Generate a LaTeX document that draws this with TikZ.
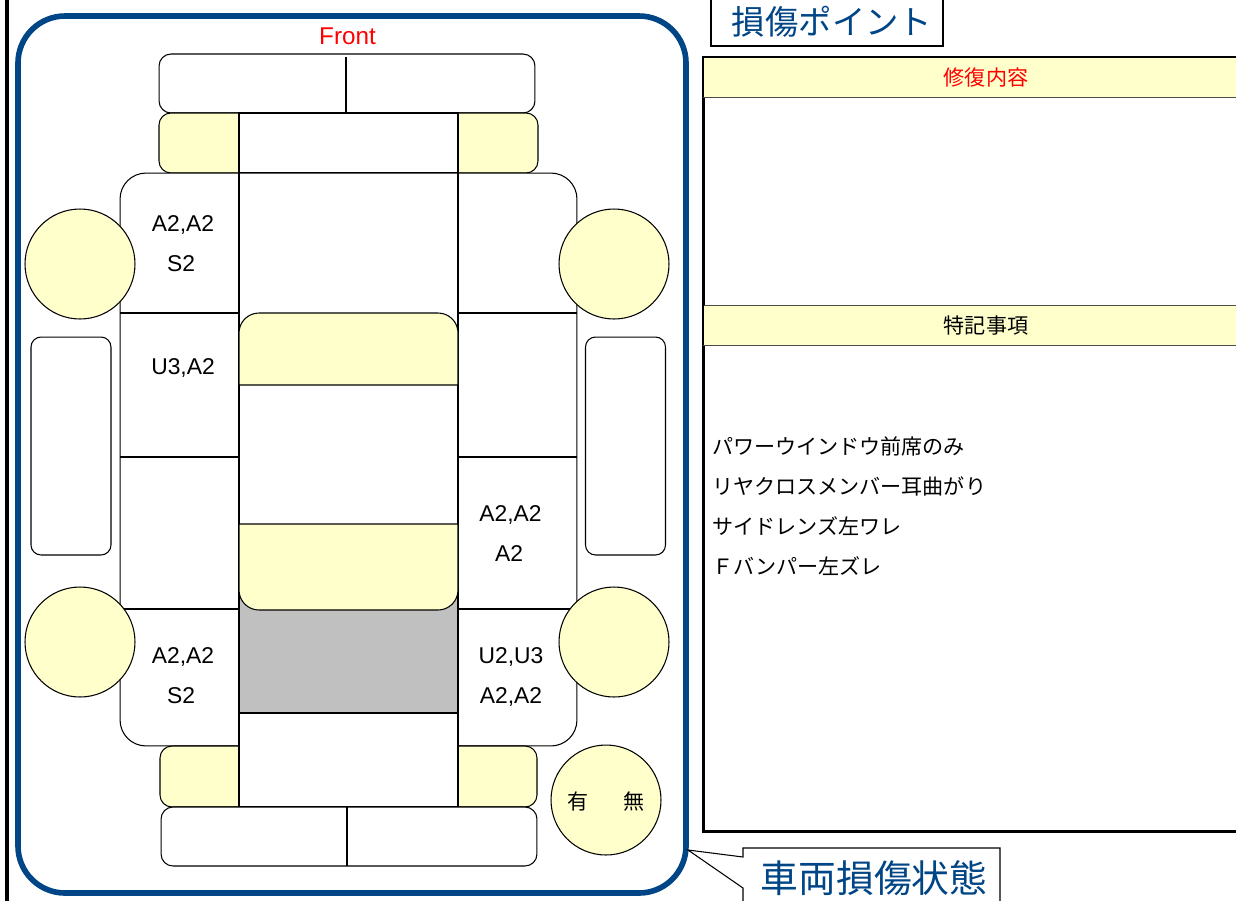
\documentclass[tikz,border=0pt]{standalone}
\usepackage{fontspec}
\setmainfont{Liberation Sans}
\newfontfamily\jpfont{Noto Sans CJK JP}
\definecolor{panelyellow}{HTML}{FFFFCC}
\definecolor{framedblue}{HTML}{004586}
\definecolor{damagegray}{HTML}{C0C0C0}
\begin{document}
\begin{tikzpicture}[
        x=0.02cm,y=-0.02cm,
        line width=0.6pt,
        part/.style={draw,fill=white,inner sep=0pt,outer sep=0pt},
        bumper/.style={part,rounded corners=2.4mm,minimum width=75.2mm,minimum height=11.8mm},
        sidepanel/.style={part,rounded corners=2mm,minimum width=16mm,minimum height=43.6mm},
        wheel/.style={part,circle,fill=panelyellow,minimum size=22mm},
        cornerpart/.style={draw,fill=panelyellow,rounded corners=2.4mm},
        windowpart/.style={draw,fill=panelyellow},
        code/.style={font=\fontsize{13}{15}\selectfont,inner sep=0pt},
        header/.style={draw=black!70,fill=panelyellow,inner sep=0pt,minimum width=113.2mm,minimum height=8mm,font=\jpfont\fontsize{12}{14}\selectfont},
        remark/.style={anchor=west,inner sep=0pt,font=\jpfont\fontsize{12}{14}\selectfont},
        callout/.style={text=framedblue,inner sep=0pt}
    ]

    \useasboundingbox (0,0) rectangle (1236,900);
    \clip (0,0) rectangle (1236,900);

    \draw[line width=1.9pt] (7,-5) -- (7,905);
    \draw[framedblue,line width=3.2pt,rounded corners=9.4mm] (18,16) rectangle (686,893);
    \node[code,text=red,font=\fontsize{13.8}{15}\selectfont] (front) at (347.5,36.5) {Front};

    % front end
    \node[bumper] (fbumper) at (347,83.5) {};
    \draw (346,57) -- (346,113);
    \draw[cornerpart] (239,113) -- (159,113) -- (159,173) -- (239,173);
    \draw[cornerpart] (458,113) -- (538,113) -- (538,173) -- (458,173);
    \node[part,minimum width=43.8mm,minimum height=12mm] (hood) at (348.5,143) {};

    % body
    \node[part,rounded corners=5.2mm,minimum width=91.4mm,minimum height=114.6mm] (body) at (348.5,459.5) {};
    \draw (239,173) -- (239,746);
    \draw (458,173) -- (458,746);
    \draw (120,313) -- (239,313);
    \draw (120,457) -- (239,457);
    \draw (120,609) -- (239,609);
    \draw (458,313) -- (577,313);
    \draw (458,457) -- (577,457);
    \draw (458,609) -- (577,609);

    % cabin
    \node[part,fill=damagegray,minimum width=43.8mm,minimum height=24.6mm] (roofdamage) at (348.5,651.5) {};
    \draw[windowpart] (239,385) [rounded corners=4mm] -- (239,313) -- (458,313) [sharp corners] -- (458,385) -- cycle;
    \draw[windowpart] (239,524) [rounded corners=4mm] -- (239,610) -- (458,610) [sharp corners] -- (458,524) -- cycle;

    % rear end
    \draw[cornerpart] (239,746) -- (160,746) -- (160,807) -- (239,807);
    \draw[cornerpart] (458,746) -- (537,746) -- (537,807) -- (458,807);
    \node[part,minimum width=43.8mm,minimum height=18.8mm] (trunk) at (348.5,760) {};
    \node[bumper] (rbumper) at (349,836.5) {};
    \draw (347,807) -- (347,866);

    \node[wheel] (wheelfl) at (80,264) {};
    \node[wheel] (wheelfr) at (614,264) {};
    \node[wheel] (wheelrl) at (80,642) {};
    \node[wheel] (wheelrr) at (614,642) {};

    \node[sidepanel] (sideleft) at (71,446) {};
    \node[sidepanel] (sideright) at (625.5,446) {};

    \node[code] (fl1) at (183,224.5) {A2,A2};
    \node[code] (fl2) at (181,264) {S2};
    \node[code] (ml1) at (183,367.5) {U3,A2};
    \node[code] (mr1) at (510.5,514.5) {A2,A2};
    \node[code] (mr2) at (509,554) {A2};
    \node[code] (rl1) at (183,656.5) {A2,A2};
    \node[code] (rl2) at (181,696) {S2};
    \node[code] (rr1) at (511,656.5) {U2,U3};
    \node[code] (rr2) at (511,696.5) {A2,A2};

    \node[wheel] (repairmark) at (606,800) {};
    \node[remark,anchor=center] (markyes) at (578,801) {有};
    \node[remark,anchor=center] (markno) at (634,801) {無};

    % right side
    \draw[fill=white] (711,-5) rectangle (943,46);
    \node[callout,font=\jpfont\fontsize{19}{22}\selectfont] (pointtitle) at (832,22) {損傷ポイント};

    \node[draw,line width=1.65pt,fill=white,inner sep=0pt,minimum width=113.2mm,minimum height=155mm] (panel) at (986,444.5) {};
    \node[header,text=red] (repair) at (986,77.5) {修復内容};
    \node[header] (notes) at (986,325.5) {特記事項};
    \draw[line width=1.65pt] (703,57) -- (1270,57);
    \draw[line width=1.65pt] (703,57) -- (703,97);
    \draw[line width=1.65pt] (703,305) -- (703,345);

    \node[remark] (note1) at (711.5,446) {パワーウインドウ前席のみ};
    \node[remark] (note2) at (711.5,486) {リヤクロスメンバー耳曲がり};
    \node[remark] (note3) at (711.5,526) {サイドレンズ左ワレ};
    \node[remark] (note4) at (711.5,566) {Ｆバンパー左ズレ};

    \draw[fill=white] (743,848) -- (1000,848) -- (1000,910) -- (743,910) -- (743,888) -- (688,850) -- (743,857) -- cycle;
    \node[callout,font=\jpfont\fontsize{21.5}{24}\selectfont] (statetitle) at (874,878) {車両損傷状態};

\end{tikzpicture}
\end{document}
